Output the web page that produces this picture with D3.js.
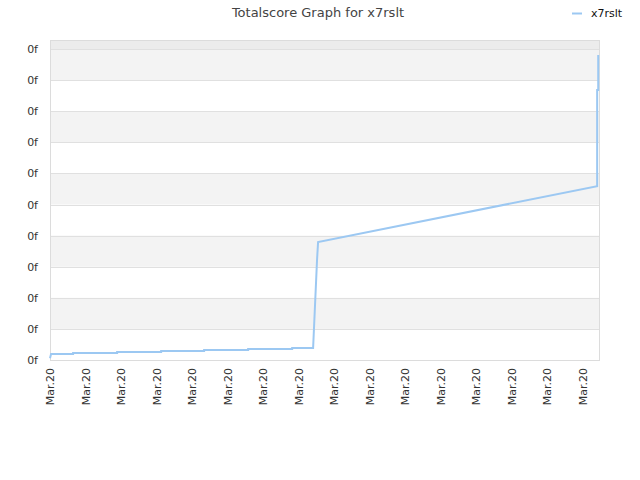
<!DOCTYPE html>
<html><head><meta charset="utf-8">
<script src="https://cdn.jsdelivr.net/npm/d3@7"></script>
<style>body{margin:0;background:#fff}svg{display:block}text{font-family:"DejaVu Sans",sans-serif}</style>
</head><body>
<svg id="c" width="640" height="480"></svg>
<script>
const title = "Totalscore Graph for x7rslt";
const seriesName = "x7rslt";
// hours since first point (all on Mar.20)
const hours  = [0, 0.03, 0.65, 0.65, 1.89, 1.89, 3.13, 3.13, 4.34, 4.34, 5.58, 5.58, 6.82, 6.82, 7.41, 7.52, 7.55, 15.41, 15.41, 15.44, 15.44];
const scores = [0.06, 0.19, 0.19, 0.225, 0.225, 0.257, 0.257, 0.289, 0.289, 0.322, 0.322, 0.354, 0.354, 0.386, 0.386, 3.2, 3.79, 5.59, 8.68, 8.68, 9.81];
const xTicks = [0,1,2,3,4,5,6,7,8,9,10,11,12,13,14,15];
const xTickLabel = "Mar.20";
const yTicks = [0,1,2,3,4,5,6,7,8,9,10];
const yTickLabel = "0f";

const svg = d3.select("#c");
const L=50,R=600,T=40,B=360;
const x = d3.scaleLinear().domain([0,15.49]).range([L,R]);
const y = d3.scaleLinear().domain([0,10.29]).range([B,T]);

// background bands
svg.append("rect").attr("x",L).attr("y",T).attr("width",R-L).attr("height",y(10)-T).attr("fill","#ececec");
for(let i=0;i<10;i++){
  if(i%2===1){
    svg.append("rect").attr("x",L).attr("y",y(i+1)).attr("width",R-L).attr("height",y(i)-y(i+1)).attr("fill","#f3f3f3");
  }
}
// grid
svg.append("g").selectAll("line").data(yTicks).join("line")
  .attr("x1",L).attr("x2",R).attr("y1",d=>Math.round(y(d))+0.5).attr("y2",d=>Math.round(y(d))+0.5)
  .attr("stroke","#e0e0e0");
// frame
svg.append("rect").attr("x",L+0.5).attr("y",T+0.5).attr("width",R-L-1).attr("height",B-T).attr("fill","none").attr("stroke","#dcdcdc");

// axes
const ya = d3.axisLeft(y).tickValues(yTicks).tickFormat(()=>yTickLabel).tickSize(0).tickPadding(12);
const gy = svg.append("g").attr("transform",`translate(${L},0)`).call(ya);
gy.select(".domain").remove();
gy.selectAll("text").attr("font-size",11).attr("fill","#333").attr("font-family","DejaVu Sans");

const xa = d3.axisBottom(x).tickValues(xTicks).tickFormat(()=>xTickLabel).tickSize(0);
const gx = svg.append("g").attr("transform",`translate(0,${B})`).call(xa);
gx.select(".domain").remove();
gx.selectAll("text").attr("font-size",11).attr("fill","#333").attr("font-family","DejaVu Sans")
  .attr("text-anchor","end").attr("transform","rotate(-90)").attr("dx","-8px").attr("dy","0.35em").attr("y",0).attr("x",0);

// line
const pts = hours.map((h,i)=>[h,scores[i]]);
svg.append("path").datum(pts)
  .attr("d",d3.line().x(d=>x(d[0])).y(d=>y(d[1])))
  .attr("fill","none").attr("stroke","#9cc8f2").attr("stroke-width",2);

// title
svg.append("text").attr("x",318).attr("y",17).attr("text-anchor","middle")
  .attr("font-size",13).attr("fill","#444").text(title);
// legend
svg.append("line").attr("x1",572).attr("x2",582).attr("y1",13.5).attr("y2",13.5).attr("stroke","#9cc8f2").attr("stroke-width",2);
svg.append("text").attr("x",591).attr("y",17).attr("font-size",11).attr("fill","#111").text(seriesName);
</script>
</body></html>
